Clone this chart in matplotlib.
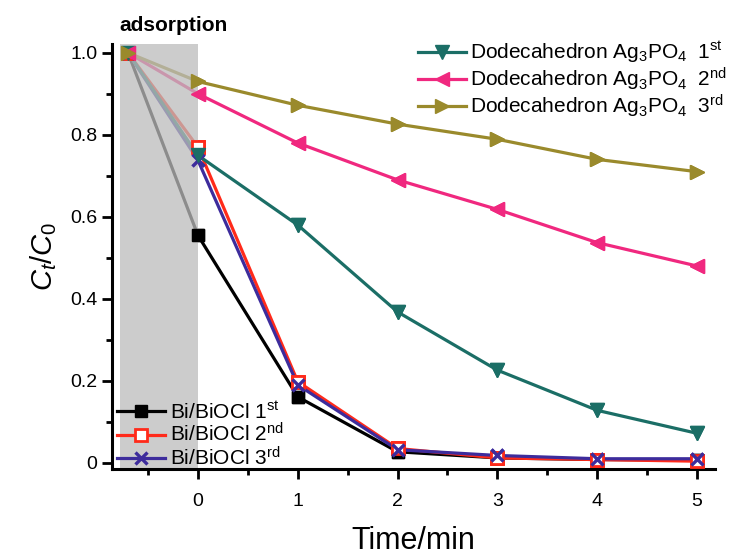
import numpy as np
import matplotlib
matplotlib.use('Agg')
import matplotlib.pyplot as plt
from matplotlib.ticker import MultipleLocator

plt.rcParams['font.family'] = ['Liberation Sans', 'DejaVu Sans']
plt.rcParams['mathtext.fontset'] = 'custom'
plt.rcParams['mathtext.rm'] = 'Liberation Sans'
plt.rcParams['mathtext.it'] = 'Liberation Sans:italic'

# tiempos (min), el primero es el punto de adsorción
tiempo = [-0.7, 0, 1, 2, 3, 4, 5]

bi_1 = [1.0, 0.555, 0.161, 0.027, 0.012, 0.008, 0.007]
bi_2 = [1.0, 0.770, 0.198, 0.035, 0.012, 0.008, 0.004]
bi_3 = [1.0, 0.738, 0.190, 0.032, 0.018, 0.010, 0.010]

ag_1 = [1.0, 0.750, 0.580, 0.368, 0.226, 0.128, 0.072]
ag_2 = [1.0, 0.900, 0.780, 0.690, 0.618, 0.537, 0.480]
ag_3 = [1.0, 0.930, 0.872, 0.826, 0.789, 0.740, 0.710]

etiq_bi = ['Bi/BiOCl 1$^{\\rm st}$', 'Bi/BiOCl 2$^{\\rm nd}$', 'Bi/BiOCl 3$^{\\rm rd}$']
etiq_ag = ['Dodecahedron Ag$_3$PO$_4$  1$^{\\rm st}$',
           'Dodecahedron Ag$_3$PO$_4$  2$^{\\rm nd}$',
           'Dodecahedron Ag$_3$PO$_4$  3$^{\\rm rd}$']

fig = plt.figure(figsize=(7.39, 5.59), dpi=100)
ax = fig.add_axes([0.1516, 0.161, 0.816, 0.76])

estilos_bi = [
    dict(color='black', marker='s', mfc='black', ms=8),
    dict(color='#ff2a1a', marker='s', mfc='white', mew=2, ms=8),
    dict(color='#3d2c9c', marker='x', mew=2.4, ms=9),
]
estilos_ag = [
    dict(color='#1b6e66', marker='v', ms=10),
    dict(color='#f0287f', marker='<', ms=10),
    dict(color='#9a8a2c', marker='>', ms=10),
]

lineas_bi, lineas_ag = [], []
for ys, lab, st in zip([bi_1, bi_2, bi_3], etiq_bi, estilos_bi):
    l, = ax.plot(tiempo, ys, lw=2.3, label=lab, zorder=1, **st)
    lineas_bi.append(l)
for ys, lab, st in zip([ag_1, ag_2, ag_3], etiq_ag, estilos_ag):
    l, = ax.plot(tiempo, ys, lw=2.3, label=lab, zorder=1, **st)
    lineas_ag.append(l)

# zona de adsorción (gris, por encima de las líneas)
ax.axvspan(-0.78, 0, color='#bcbcbc', alpha=0.75, lw=0, zorder=2)

# marcadores otra vez por encima de la zona gris
for ys, st in zip([bi_1, bi_2, bi_3], estilos_bi):
    ax.plot(tiempo, ys, ls='none', zorder=3, **st)
for ys, st in zip([ag_1, ag_2, ag_3], estilos_ag):
    ax.plot(tiempo, ys, ls='none', zorder=3, **st)

ax.set_xlim(-0.86, 5.18)
ax.set_ylim(-0.015, 1.021)
ax.set_xticks([0, 1, 2, 3, 4, 5])
ax.set_yticks([0, 0.2, 0.4, 0.6, 0.8, 1.0])
ax.set_yticklabels(['0', '0.2', '0.4', '0.6', '0.8', '1.0'])
ax.xaxis.set_minor_locator(MultipleLocator(0.5))
ax.yaxis.set_minor_locator(MultipleLocator(0.1))
ax.tick_params(which='major', direction='out', length=7, width=2, labelsize=14)
ax.tick_params(which='minor', direction='out', length=4, width=2)
ax.tick_params(axis='x', which='major', pad=10)
for s in ['top', 'right']:
    ax.spines[s].set_visible(False)
for s in ['left', 'bottom']:
    ax.spines[s].set_linewidth(2.2)

ax.set_xlabel('Time/min', fontsize=22, labelpad=12)
ax.set_ylabel('$C_t/C_0$', fontsize=21, labelpad=8)

fig.text(0.161, 0.945, 'adsorption', fontsize=15, fontweight='bold')

leg1 = ax.legend(handles=lineas_ag, loc='upper right', bbox_to_anchor=(1.02, 1.01),
                 frameon=False, fontsize=15, handlelength=2.3, handletextpad=0.2,
                 labelspacing=0.0, borderaxespad=0, borderpad=0)
ax.add_artist(leg1)
ax.legend(handles=lineas_bi, loc='lower left', bbox_to_anchor=(0.008, 0.0),
          frameon=False, fontsize=15, handlelength=2.3, handletextpad=0.25,
          labelspacing=0.0, borderaxespad=0, borderpad=0)

fig.savefig('out.png', dpi=100)
